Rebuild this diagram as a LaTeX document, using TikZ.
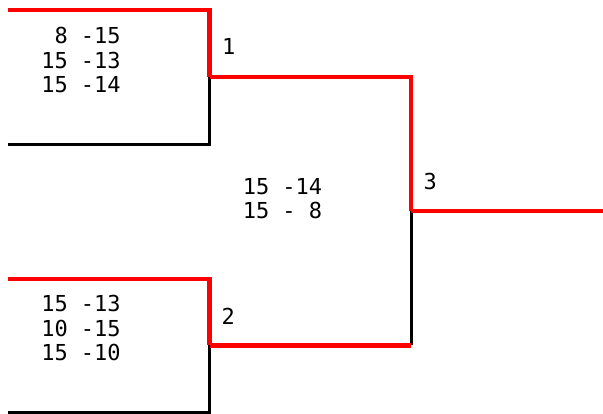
\documentclass[tikz,border=0pt]{standalone}
\usepackage{fontspec}
\newfontfamily\bracketfont{DejaVu Sans Mono}
\begin{document}
\begin{tikzpicture}[x=1pt,y=-1pt,
  winner/.style={red,line width=4.5pt},
  loser/.style={black,line width=3pt},
  score/.style={font=\bracketfont\fontsize{22}{24.5}\selectfont,inner sep=0pt,align=right,anchor=north},
  num/.style={font=\bracketfont\fontsize{22}{24.5}\selectfont,inner sep=0pt,anchor=base west}]
\useasboundingbox (0,0) rectangle (603,414);
% ends of the bracket
\coordinate (T1) at (8,10);
\coordinate (T2) at (8,144.5);
\coordinate (T3) at (8,279);
\coordinate (T4) at (8,412.5);
\coordinate (M1) at (209.5,77);
\coordinate (M2) at (209.5,345.5);
\coordinate (M3) at (411,211);
\coordinate (C2) at (M2 -| M3);
\coordinate (W) at (603,211);
% lines
\draw[loser] (T2) -| (M1);
\draw[loser] (T4) -| (M2);
\draw[loser] (C2) -- (M3);
\draw[winner] (T1) -| (M1);
\draw[winner] (T3) -| (M2);
\draw[winner] (M1) -| (M3);
\draw[winner] (M2) -- (C2);
\draw[winner] (M3) -- (W);
% labels
\node[num] (N1) at (222,55) {1};
\node[num] (N2) at (221.5,325) {2};
\node[num] (N3) at (423.5,190) {3};
\node[score] (S1) at (81,27) {8 -15\\15 -13\\15 -14};
\node[score] (S2) at (81,295) {15 -13\\10 -15\\15 -10};
\node[score] (S3) at (282.5,178) {15 -14\\15 - 8};
\end{tikzpicture}
\end{document}
